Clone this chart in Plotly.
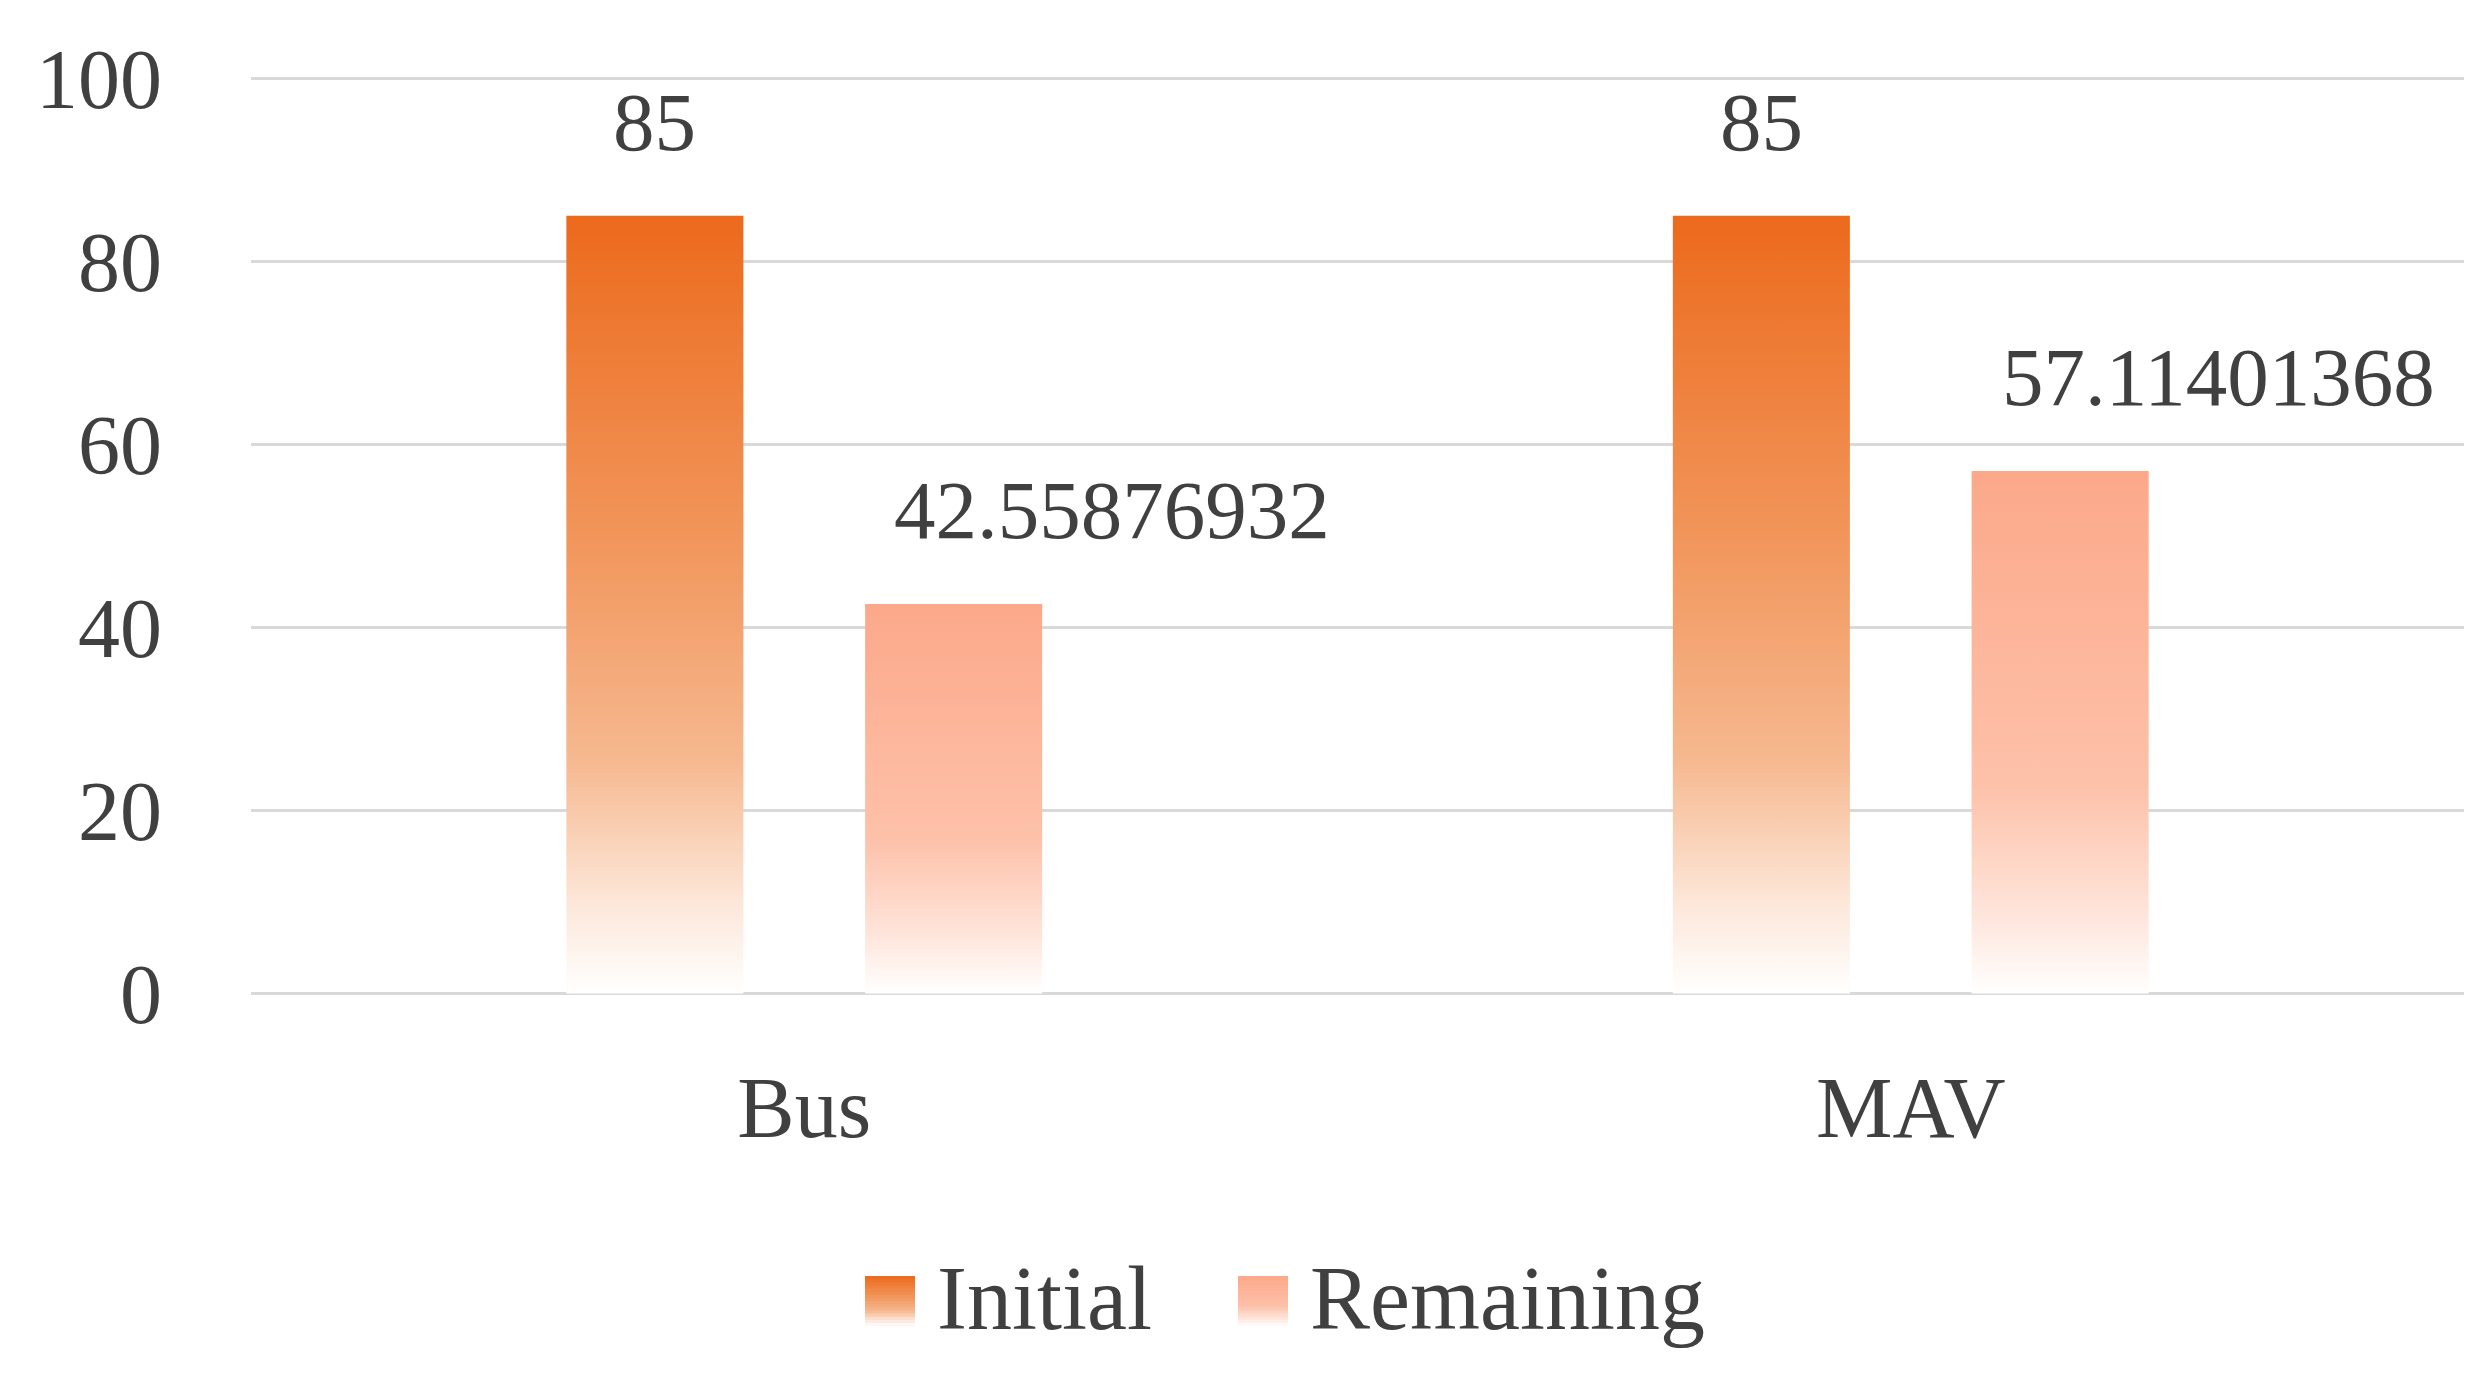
import plotly.graph_objects as go
from plotly.colors import sample_colorscale

categories = ["Bus", "MAV"]
series_names = ["Initial", "Remaining"]
initial = [85, 85]
remaining = [42.55876932, 57.11401368]
initial_labels = ["85", "85"]
remaining_labels = ["42.55876932", "57.11401368"]
y_ticks = [0, 20, 40, 60, 80, 100]

FONT = "Liberation Serif"
TXT = "#404040"
W, H = 2488, 1380
M = dict(l=243, r=32, t=66, b=390)

series = [
    dict(name="Initial", values=initial, labels=initial_labels, offset=-0.135,
         scale=[[0, "#FFFFFF"], [0.12, "#FCE6D8"], [0.3, "#F6B88F"],
                [0.6, "#F19459"], [1, "#EC6A1C"]], xshift=0, leg_x=857),
    dict(name="Remaining", values=remaining, labels=remaining_labels, offset=0.135,
         scale=[[0, "#FFFFFF"], [0.15, "#FEE5DB"], [0.4, "#FDC1A9"],
                [1, "#FCA88A"]], xshift=158, leg_x=1230),
]
bar_w = 0.16


def px(x):
    return (x - M["l"]) / (W - M["l"] - M["r"])


def py(y):
    return (H - M["b"] - y) / (H - M["t"] - M["b"])


fig = go.Figure()
for s in series:
    for i, v in enumerate(s["values"]):
        x0 = i + s["offset"] - bar_w / 2
        x1 = i + s["offset"] + bar_w / 2
        fig.add_trace(go.Scatter(
            x=[x0, x1, x1, x0, x0], y=[0, 0, v, v, 0],
            mode="lines", fill="toself",
            line=dict(width=0),
            fillgradient=dict(type="vertical", colorscale=s["scale"], start=0, stop=v),
            name=s["name"], legendgroup=s["name"], showlegend=False,
            hoverinfo="skip"))
        fig.add_annotation(x=i + s["offset"], y=v, text=s["labels"][i],
                           showarrow=False, yanchor="middle", yshift=94,
                           xshift=s["xshift"],
                           font=dict(family=FONT, size=83, color=TXT))

    # legend swatch (gradient drawn as thin bands) + label
    nb = 16
    sq_top, sq_bot = 1268, 1318
    cols = sample_colorscale(s["scale"], [(k + 0.5) / nb for k in range(nb)])
    for k in range(nb):
        yb = sq_bot - (sq_bot - sq_top) * k / nb
        yt = sq_bot - (sq_bot - sq_top) * (k + 1) / nb
        fig.add_shape(type="rect", xref="paper", yref="paper",
                      x0=px(s["leg_x"]), x1=px(s["leg_x"] + 50),
                      y0=py(yb), y1=py(max(yt - 1.5, sq_top)),
                      fillcolor=cols[k], line=dict(width=0), layer="above")
    fig.add_annotation(xref="paper", yref="paper", x=px(s["leg_x"] + 70), y=py(1290),
                       text=s["name"], showarrow=False, xanchor="left", yanchor="middle",
                       font=dict(family=FONT, size=90, color=TXT))

fig.update_layout(
    width=W, height=H,
    paper_bgcolor="white", plot_bgcolor="white",
    margin=M,
    font=dict(family=FONT, size=80, color=TXT),
    showlegend=False,
    xaxis=dict(range=[-0.5, 1.5], tickvals=list(range(len(categories))),
               ticktext=categories, showgrid=False, zeroline=False,
               ticklabelstandoff=52, tickfont=dict(size=86)),
    yaxis=dict(range=[-0.5, 100.5], tickvals=y_ticks, showgrid=True,
               gridcolor="#D9D9D9", gridwidth=3, zeroline=False,
               ticklabelstandoff=88, tickfont=dict(size=84)),
)

fig.write_html("out.html")
